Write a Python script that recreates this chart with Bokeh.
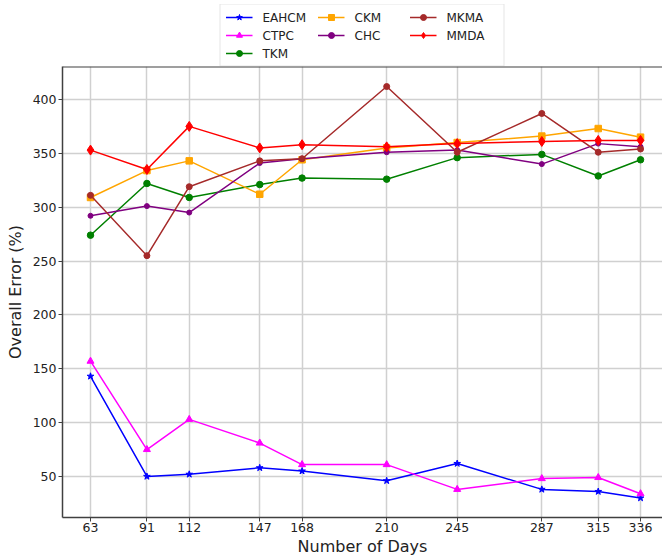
from bokeh.plotting import figure
from bokeh.models import Legend, LegendItem, FixedTicker, Range1d, Span
from bokeh.layouts import column
from bokeh.embed import file_html
from bokeh.resources import INLINE

days = [63, 91, 112, 147, 168, 210, 245, 287, 315, 336]

eahcm = [143, 50, 52, 58, 55, 46, 62, 38, 36, 30]
ctpc = [157, 75, 103, 81, 61, 61, 38, 48, 49, 34]
tkm = [274, 322, 309, 321, 327, 326, 346, 349, 329, 344]
ckm = [309, 334, 343, 312, 344, 355, 360, 366, 373, 365]
chc = [292, 301, 295, 341, 345, 351, 353, 340, 359, 356]
mkma = [311, 255, 319, 343, 345, 412, 351, 387, 351, 354]
mmda = [353, 335, 375, 355, 358, 356, 359, 361, 362, 362]

y_ticks = [50, 100, 150, 200, 250, 300, 350, 400]

series = [
    ("EAHCM", eahcm, "#0000ff", "star", 7),
    ("CTPC", ctpc, "#ff00ff", "triangle", 7),
    ("TKM", tkm, "#008000", "circle", 6.5),
    ("CKM", ckm, "#ffa500", "square", 6.5),
    ("CHC", chc, "#800080", "circle", 5),
    ("MKMA", mkma, "#a52a2a", "circle", 6),
    ("MMDA", mmda, "#ff0000", "diamond", 10),
]

FONT = "DejaVu Sans"
TXT = "#222222"
SPINE = "#404040"
FW, FH = 600, 451
LEFT = 62
Y0, Y1 = 11.9, 430.6

# main chart
p = figure(frame_width=FW, frame_height=FH, output_backend="svg", toolbar_location=None,
           x_range=Range1d(49.1, 346.9), y_range=Range1d(Y0, Y1),
           min_border_left=LEFT, min_border_right=0, min_border_top=0, min_border_bottom=41)

for name, vals, color, marker, size in series:
    p.line(days, vals, line_color=color, line_width=1.5)
    p.scatter(days, vals, marker=marker, size=size, fill_color=color, line_color=color)

p.xaxis.ticker = FixedTicker(ticks=days)
p.yaxis.ticker = FixedTicker(ticks=y_ticks)
p.xaxis.axis_label = "Number of Days"
p.yaxis.axis_label = "Overall Error (%)"

for ax in (p.xaxis, p.yaxis):
    ax.axis_label_text_font = FONT
    ax.axis_label_text_font_size = "16px"
    ax.axis_label_text_font_style = "normal"
    ax.axis_label_text_color = TXT
    ax.major_label_text_font = FONT
    ax.major_label_text_font_size = "12.5px"
    ax.major_label_text_color = TXT
    ax.axis_line_color = SPINE
    ax.axis_line_width = 1.5
    ax.major_tick_line_color = SPINE
    ax.major_tick_out = 4
    ax.major_tick_in = 0
    ax.minor_tick_line_color = None
p.xaxis.major_label_standoff = 1
p.xaxis.axis_label_standoff = 2
p.yaxis.major_label_standoff = 2
p.yaxis.axis_label_standoff = 5

p.grid.grid_line_color = "#d0d0d0"
p.grid.grid_line_width = 1.5
p.outline_line_color = None
p.add_layout(Span(location=Y1, dimension="width", line_color=SPINE, line_width=2))
p.background_fill_color = "white"
p.border_fill_color = "white"

# legend strip above the chart (series drawn outside its visible range, only legend shows)
lf = figure(frame_width=FW, frame_height=62, output_backend="svg", toolbar_location=None,
            x_axis_location=None, y_axis_location=None, x_range=Range1d(0, 1), y_range=Range1d(0, 1),
            min_border_left=LEFT, min_border_right=0, min_border_top=4, min_border_bottom=0)
lf.outline_line_color = None
lf.grid.visible = False

items = {}
for name, vals, color, marker, size in series:
    lr = lf.line(days, vals, line_color=color, line_width=1.5)
    sr = lf.scatter(days, vals, marker=marker, size=size, fill_color=color, line_color=color)
    items[name] = LegendItem(label=name, renderers=[lr, sr])

order = ["EAHCM", "CKM", "MKMA", "CTPC", "CHC", "MMDA", "TKM"]
legend = Legend(items=[items[n] for n in order], orientation="horizontal", ncols=3,
                location="center", label_text_font=FONT, label_text_font_size="12px",
                label_text_color=TXT, label_height=15, label_width=52, label_standoff=10,
                glyph_width=27, glyph_height=15, spacing=3, padding=5, margin=0,
                border_line_color="#cccccc", border_line_width=1, background_fill_alpha=1)
lf.add_layout(legend, "center")

layout = column(lf, p, spacing=0)
open("out.html", "w").write(file_html(layout, INLINE))
